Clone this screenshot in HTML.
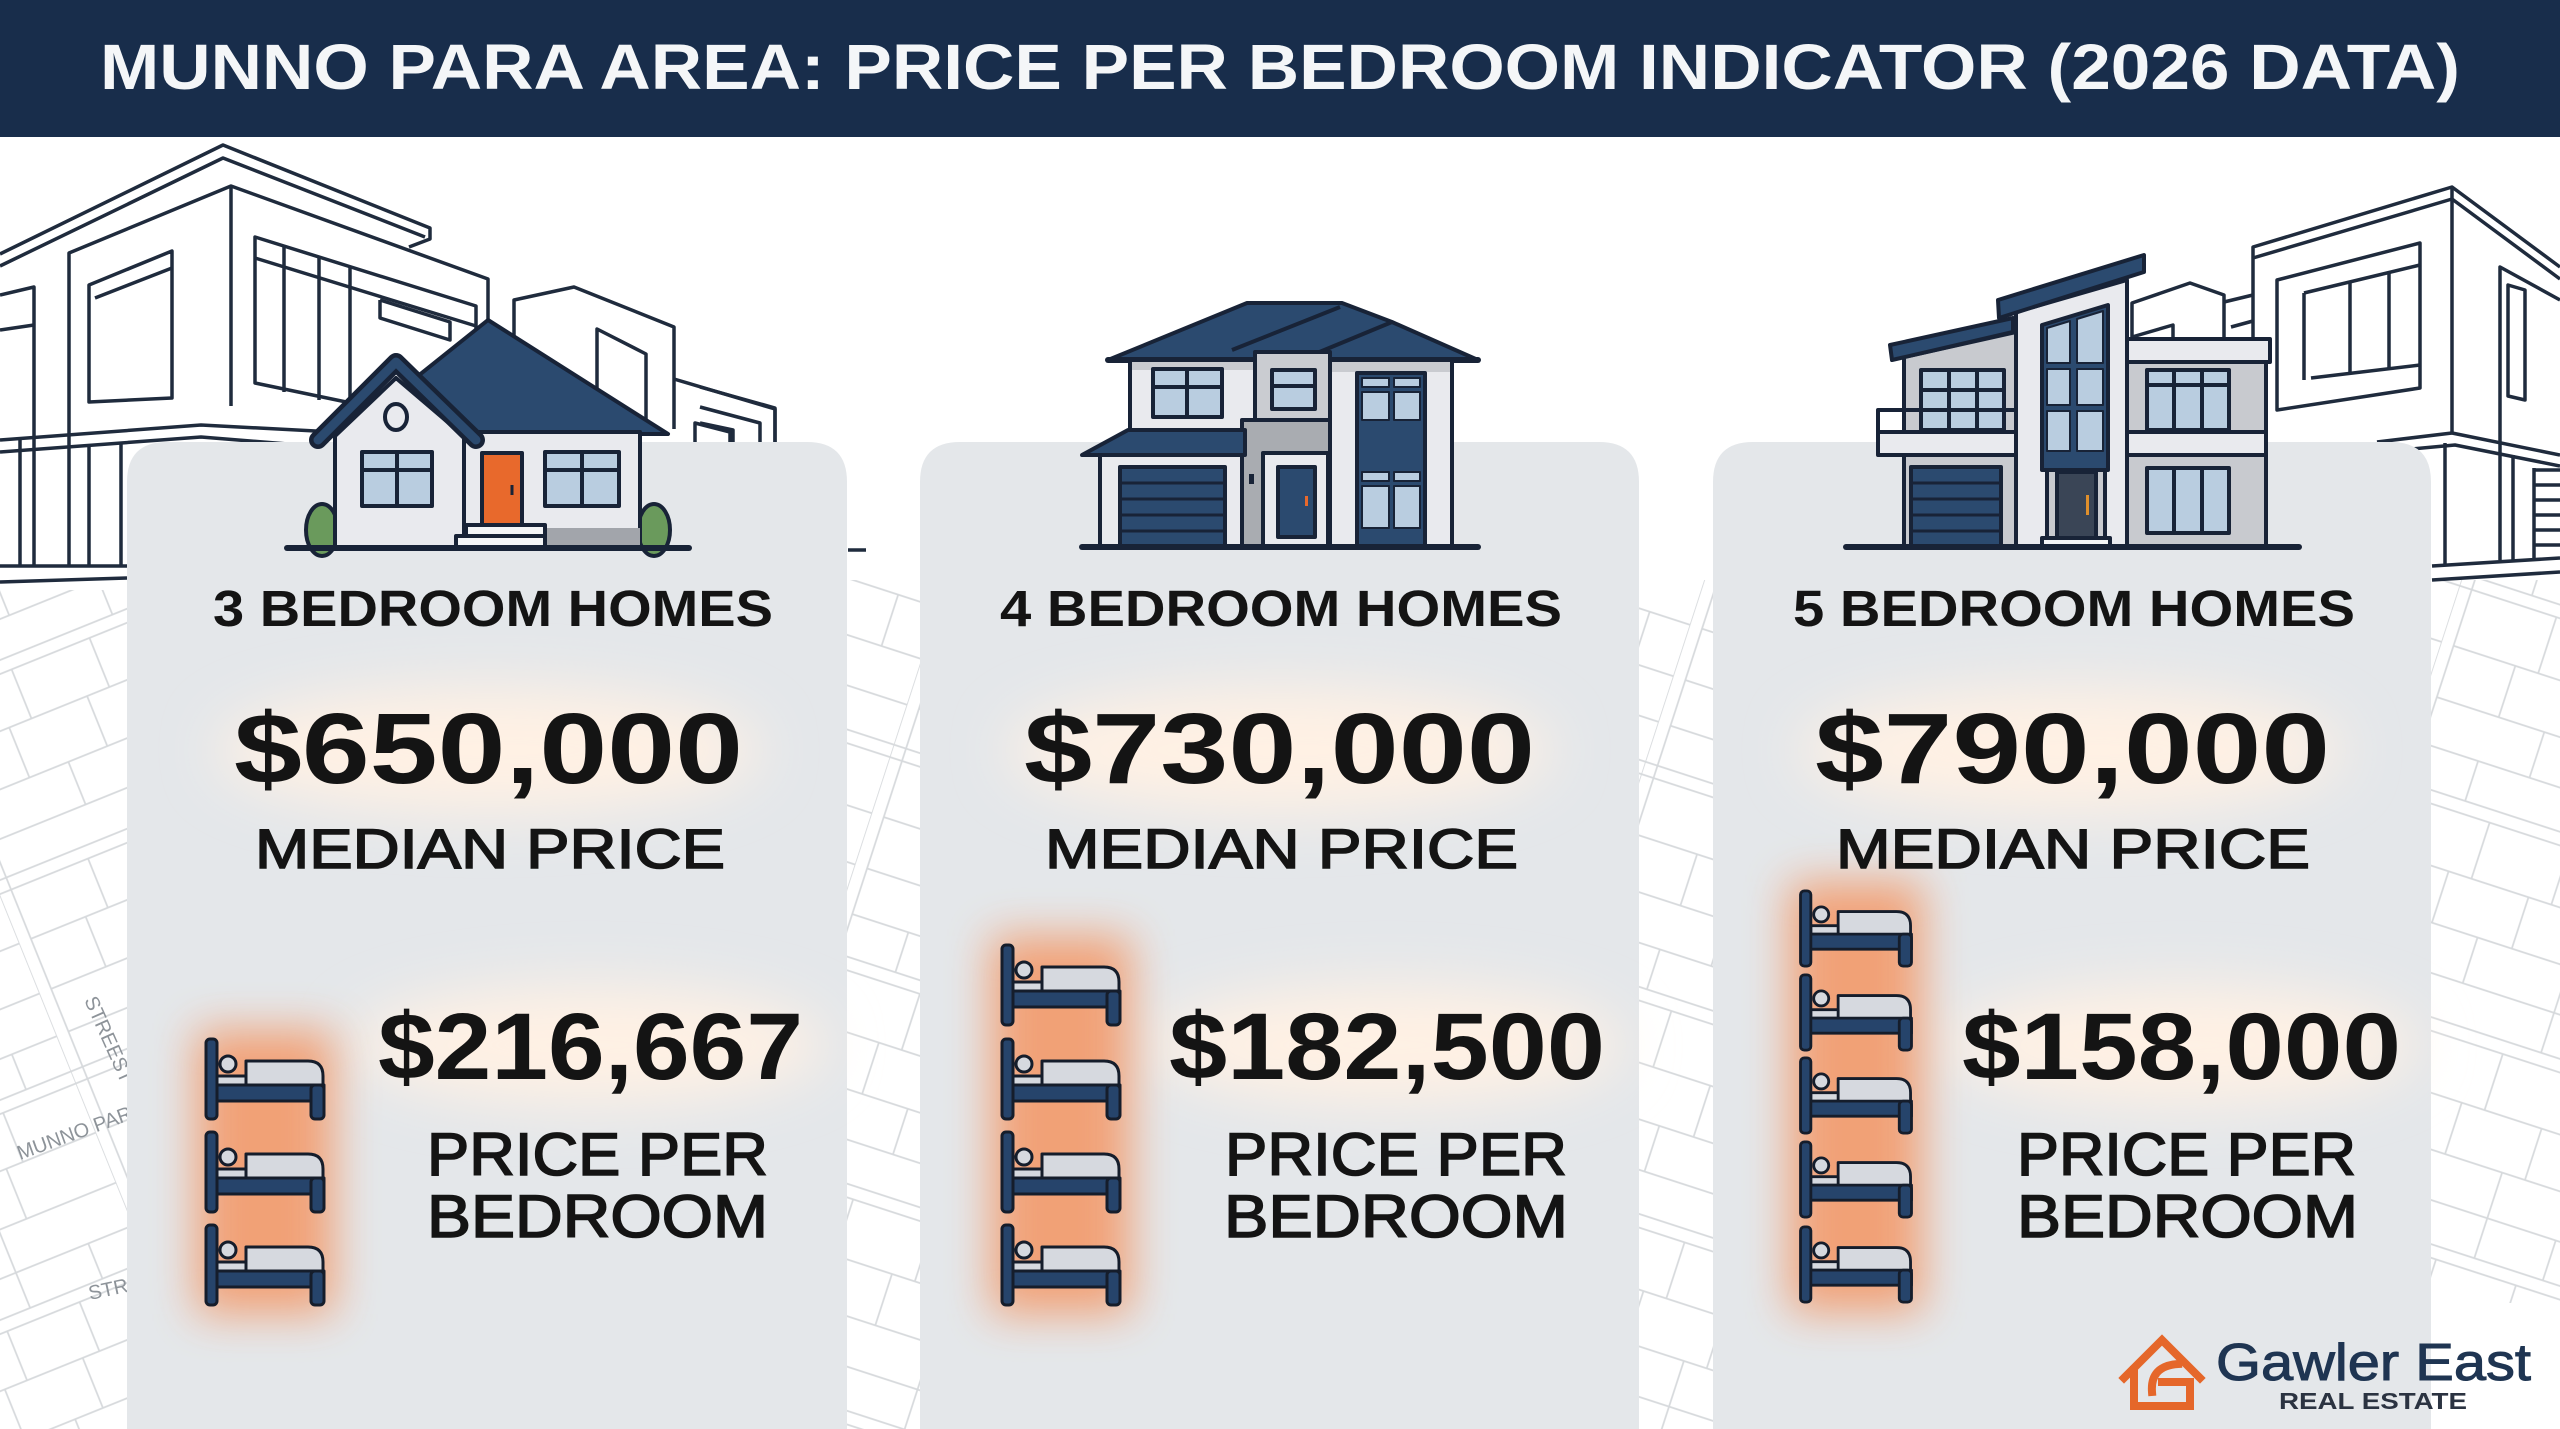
<!DOCTYPE html>
<html><head><meta charset="utf-8">
<style>
html,body{margin:0;padding:0;background:#fff;}
svg{display:block;}
</style></head><body>
<svg width="2560" height="1429" viewBox="0 0 2560 1429" xmlns="http://www.w3.org/2000/svg">
<defs>
 <filter id="b22" x="-60%" y="-60%" width="220%" height="220%"><feGaussianBlur stdDeviation="22"/></filter>
 <filter id="b28" x="-60%" y="-60%" width="220%" height="220%"><feGaussianBlur stdDeviation="28"/></filter>
 <pattern id="mapA" width="360" height="216" patternUnits="userSpaceOnUse" patternTransform="rotate(18)">
  <g stroke="#d6d9dc" stroke-width="1.7" fill="none">
   <path d="M0 0H360M0 13H360M0 216H360"/>
   <path d="M0 0V216M13 0V216"/>
   <path d="M13 72H360M13 126H360M13 174H360"/>
   <path d="M102 13V72M186 13V72M270 13V72M78 72V126M162 72V126M246 72V126M318 72V126M126 126V174M222 126V216M294 174V216M72 174V216"/>
  </g>
 </pattern>
 <pattern id="mapB" width="336" height="204" patternUnits="userSpaceOnUse" patternTransform="rotate(-22)">
  <g stroke="#d6d9dc" stroke-width="1.7" fill="none">
   <path d="M0 0H336M0 13H336M0 204H336"/>
   <path d="M0 0V204M13 0V204"/>
   <path d="M13 66H336M13 120H336M13 166H336"/>
   <path d="M96 13V66M180 13V66M258 13V66M72 66V120M156 66V120M240 66V120M114 120V166M210 120V204M288 166V204"/>
  </g>
 </pattern>
 <symbol id="bed" viewBox="0 0 122 84">
  <g stroke="#151d2b" stroke-width="3" stroke-linejoin="round">
   <path d="M42,50 V24 H104 Q119,24 119,39 V50 Z" fill="#d6d9df"/>
   <rect x="13" y="39" width="29" height="9" fill="#d6d9df"/>
   <circle cx="24" cy="27" r="8" fill="#d6d9df"/>
   <rect x="11" y="48" width="109" height="16" fill="#26446b"/>
   <rect x="2" y="2" width="11" height="80" rx="4" fill="#26446b"/>
   <rect x="107" y="48" width="13" height="34" rx="4" fill="#26446b"/>
  </g>
 </symbol>
</defs>

<!-- background -->
<rect width="2560" height="1429" fill="#ffffff"/>
<rect x="127" y="580" width="2433" height="849" fill="url(#mapA)"/>
<rect x="0" y="590" width="127" height="839" fill="url(#mapB)"/>
<g font-family="Liberation Sans, sans-serif" font-size="20" fill="#8d9399">
 <text transform="translate(20,1160) rotate(-20)">MUNNO PARA</text>
 <text transform="translate(84,1000) rotate(66)">STREEST</text>
 <text transform="translate(90,1300) rotate(-12)">STRE</text>
</g>
<rect x="2431" y="1303" width="129" height="126" fill="#ffffff"/>

<!-- left background building sketch -->
<g fill="none" stroke="#1f2b3d" stroke-width="3.5" stroke-linejoin="round">
 <polyline points="0,254 223,145 430,228 430,239 409,247"/>
 <polyline points="0,266 223,158 425,237"/>
 <polyline points="69,566 69,253 231,186 488,279 488,440"/>
 <line x1="231" y1="186" x2="231" y2="406"/>
 <polygon points="89,285 172,251 172,398 89,402"/>
 <polyline points="95,298 172,268"/>
 <polygon points="255,237 476,306 476,429 255,383"/>
 <polyline points="255,258 476,326"/>
 <line x1="284" y1="246" x2="284" y2="392"/>
 <line x1="319" y1="257" x2="319" y2="400"/>
 <line x1="350" y1="267" x2="350" y2="406"/>
 <polyline points="380,300 450,322 450,340 380,318 380,300"/>
 <polyline points="0,440 201,425 488,440"/>
 <polyline points="0,452 201,437 300,445"/>
 <line x1="20" y1="440" x2="20" y2="566"/>
 <line x1="89" y1="447" x2="89" y2="566"/>
 <line x1="121" y1="444" x2="121" y2="566"/>
 <polyline points="0,295 34,287 34,566"/>
 <polyline points="0,330 34,325"/>
 <polyline points="514,432 514,300 574,287 674,327 674,429"/>
 <polygon points="597,329 646,354 646,429 597,420"/>
 <polyline points="674,379 775,409 775,551"/>
 <polygon points="695,423 730,432 730,470 695,463"/>
 <polyline points="700,387 775,408 775,442"/>
 <polyline points="700,407 760,423 760,442"/>
 <polyline points="700,423 733,430 733,442"/>
 <line x1="0" y1="566" x2="127" y2="566"/>
 <line x1="0" y1="582" x2="127" y2="578"/>
 <line x1="848" y1="550" x2="866" y2="550"/>
</g>

<!-- right background building sketch -->
<g fill="none" stroke="#1f2b3d" stroke-width="3.5" stroke-linejoin="round">
 <polyline points="2253,440 2253,247 2452,187 2560,267"/>
 <polyline points="2253,258 2452,199 2560,279"/>
 <line x1="2452" y1="187" x2="2452" y2="433"/>
 <polygon points="2277,280 2420,243 2420,388 2277,410"/>
 <polyline points="2304,293 2420,265"/>
 <polyline points="2304,293 2304,380"/>
 <polyline points="2311,378 2420,365"/>
 <line x1="2350" y1="282" x2="2350" y2="373"/>
 <line x1="2389" y1="272" x2="2389" y2="368"/>
 <polyline points="2500,560 2500,267 2560,300"/>
 <polygon points="2508,285 2525,290 2525,400 2508,396"/>
 <polyline points="2377,442 2452,433 2560,455"/>
 <polyline points="2380,452 2455,445 2560,466"/>
 <line x1="2445" y1="443" x2="2445" y2="565"/>
 <line x1="2513" y1="455" x2="2513" y2="560"/>
 <line x1="2534" y1="470" x2="2560" y2="470"/>
 <line x1="2534" y1="485" x2="2560" y2="485"/>
 <line x1="2534" y1="500" x2="2560" y2="500"/>
 <line x1="2534" y1="515" x2="2560" y2="515"/>
 <line x1="2534" y1="530" x2="2560" y2="530"/>
 <line x1="2534" y1="545" x2="2560" y2="545"/>
 <line x1="2534" y1="468" x2="2534" y2="558"/>
 <polyline points="2432,566 2560,558"/>
 <polyline points="2432,580 2560,572"/>
 <polyline points="2132,340 2132,303 2190,283 2224,295 2224,340"/>
 <polyline points="2224,302 2253,295"/>
 <polyline points="2132,337 2173,325 2173,340"/>
 <polyline points="2231,327 2253,321"/>
</g>

<!-- header -->
<rect x="0" y="0" width="2560" height="137" fill="#182d4b"/>
<text x="100" y="89" font-family="Liberation Sans, sans-serif" font-weight="bold" font-size="64" fill="#f4f6f8" textLength="2360" lengthAdjust="spacingAndGlyphs">MUNNO PARA AREA: PRICE PER BEDROOM INDICATOR (2026 DATA)</text>

<!-- cards -->
<path d="M127,1429 V482 Q127,442 167,442 H807 Q847,442 847,482 V1429 Z" fill="#e4e7ea"/>
<path d="M920,1429 V482 Q920,442 960,442 H1599 Q1639,442 1639,482 V1429 Z" fill="#e4e7ea"/>
<path d="M1713,1429 V482 Q1713,442 1753,442 H2391 Q2431,442 2431,482 V1429 Z" fill="#e4e7ea"/>

<!-- glows -->
<g filter="url(#b28)" fill="#fff1e4">
 <ellipse cx="489" cy="750" rx="270" ry="62"/>
 <ellipse cx="1280" cy="750" rx="270" ry="62"/>
 <ellipse cx="2072" cy="750" rx="270" ry="62"/>
 <ellipse cx="590" cy="1045" rx="235" ry="58"/>
 <ellipse cx="1387" cy="1045" rx="235" ry="58"/>
 <ellipse cx="2181" cy="1045" rx="235" ry="58"/>
</g>
<g filter="url(#b22)" fill="#f39a6b" opacity="0.9">
 <rect x="196" y="1030" width="138" height="284"/>
 <rect x="991" y="936" width="140" height="378"/>
 <rect x="1789" y="882" width="134" height="430"/>
</g>

<!-- House 1 -->
<g stroke="#182337" stroke-width="4" stroke-linejoin="round">
 <ellipse cx="322" cy="530" rx="16" ry="26" fill="#6a9a5c"/>
 <ellipse cx="654" cy="530" rx="16" ry="26" fill="#6a9a5c"/>
 <polygon points="408,384 488,320 668,434 462,434" fill="#2b4a6f"/>
 <rect x="464" y="432" width="176" height="116" fill="#e9eaee"/>
 <polygon points="335,436 396,378 464,436 464,548 335,548" fill="#e9eaee"/>
 <polyline points="318,440 396,362 476,440" fill="none" stroke="#182337" stroke-width="18" stroke-linecap="round"/>
 <polyline points="318,440 396,362 476,440" fill="none" stroke="#2b4a6f" stroke-width="9" stroke-linecap="round"/>
 <ellipse cx="396" cy="417" rx="11" ry="13" fill="#e9eaee"/>
 <rect x="362" y="452" width="70" height="54" fill="#b9cde0"/>
 <line x1="397" y1="452" x2="397" y2="506"/>
 <line x1="362" y1="470" x2="432" y2="470"/>
 <rect x="545" y="452" width="74" height="54" fill="#b9cde0"/>
 <line x1="582" y1="452" x2="582" y2="506"/>
 <line x1="545" y1="470" x2="619" y2="470"/>
 <rect x="482" y="453" width="40" height="72" fill="#e8692c"/>
 <line x1="512" y1="485" x2="512" y2="495" stroke-width="3"/>
 <rect x="545" y="528" width="95" height="20" fill="#a2a5ab" stroke="none"/>
 <rect x="466" y="525" width="79" height="11" fill="#f4f5f7"/>
 <rect x="456" y="536" width="89" height="12" fill="#f4f5f7"/>
 <line x1="287" y1="548" x2="689" y2="548" stroke-width="6" stroke-linecap="round"/>
</g>

<!-- House 2 -->
<g stroke="#182337" stroke-width="4" stroke-linejoin="round">
 <polygon points="1108,360 1247,303 1342,303 1392,322 1478,360" fill="#2b4a6f"/>
 <line x1="1232" y1="350" x2="1340" y2="307"/>
 <line x1="1305" y1="358" x2="1392" y2="322"/>
 <line x1="1108" y1="360" x2="1478" y2="360" stroke-width="6" stroke-linecap="round"/>
 <rect x="1130" y="360" width="125" height="70" fill="#e9eaee"/>
 <rect x="1132" y="362" width="121" height="8" fill="#c9cbd0" stroke="none"/>
 <rect x="1153" y="369" width="69" height="48" fill="#b9cde0"/>
 <line x1="1187" y1="369" x2="1187" y2="417"/>
 <line x1="1153" y1="387" x2="1222" y2="387"/>
 <rect x="1255" y="352" width="75" height="68" fill="#caccd1"/>
 <rect x="1272" y="370" width="43" height="39" fill="#b9cde0"/>
 <line x1="1272" y1="386" x2="1315" y2="386"/>
 <rect x="1242" y="420" width="88" height="127" fill="#a9acb1"/>
 <rect x="1263" y="453" width="65" height="94" fill="#e9eaee"/>
 <rect x="1278" y="467" width="37" height="70" fill="#2b4a6f"/>
 <rect x="1305" y="496" width="3" height="10" fill="#e8692c" stroke="none"/>
 <rect x="1249" y="474" width="5" height="10" fill="#182337" stroke="none"/>
 <rect x="1330" y="360" width="122" height="187" fill="#e9eaee"/>
 <rect x="1332" y="362" width="118" height="10" fill="#c9cbd0" stroke="none"/>
 <rect x="1357" y="373" width="68" height="174" fill="#2b4a6f"/>
 <g fill="#b9cde0" stroke-width="2">
  <rect x="1362" y="378" width="27" height="9"/><rect x="1394" y="378" width="26" height="9"/>
  <rect x="1362" y="392" width="27" height="28"/><rect x="1394" y="392" width="26" height="28"/>
  <rect x="1362" y="472" width="27" height="9"/><rect x="1394" y="472" width="26" height="9"/>
  <rect x="1362" y="486" width="27" height="42"/><rect x="1394" y="486" width="26" height="42"/>
 </g>
 <polygon points="1082,455 1128,430 1245,430 1245,455" fill="#2b4a6f"/>
 <rect x="1100" y="455" width="142" height="92" fill="#e9eaee"/>
 <rect x="1120" y="467" width="105" height="80" fill="#2b4a6f"/>
 <line x1="1120" y1="483" x2="1225" y2="483" stroke-width="3"/>
 <line x1="1120" y1="499" x2="1225" y2="499" stroke-width="3"/>
 <line x1="1120" y1="515" x2="1225" y2="515" stroke-width="3"/>
 <line x1="1120" y1="531" x2="1225" y2="531" stroke-width="3"/>
 <line x1="1082" y1="547" x2="1478" y2="547" stroke-width="6" stroke-linecap="round"/>
</g>

<!-- House 3 -->
<g stroke="#182337" stroke-width="4" stroke-linejoin="round">
 <polygon points="1904,357 2016,332 2016,547 1904,547" fill="#c8cacf"/>
 <polygon points="1890,345 2013,318 2013,332 1892,360" fill="#2b4a6f"/>
 <rect x="1921" y="370" width="83" height="60" fill="#b9cde0"/>
 <line x1="1949" y1="370" x2="1949" y2="430"/>
 <line x1="1977" y1="370" x2="1977" y2="430"/>
 <line x1="1921" y1="390" x2="2004" y2="390"/>
 <polyline points="1878,432 1878,410 2016,410" fill="none"/>
 <rect x="1878" y="432" width="138" height="23" fill="#e9eaee"/>
 <rect x="1911" y="467" width="90" height="80" fill="#2b4a6f"/>
 <line x1="1911" y1="483" x2="2001" y2="483" stroke-width="3"/>
 <line x1="1911" y1="499" x2="2001" y2="499" stroke-width="3"/>
 <line x1="1911" y1="515" x2="2001" y2="515" stroke-width="3"/>
 <line x1="1911" y1="531" x2="2001" y2="531" stroke-width="3"/>
 <polygon points="2016,312 2127,280 2127,547 2016,547" fill="#e9eaee"/>
 <polygon points="1998,300 2144,255 2144,272 1999,318" fill="#2b4a6f"/>
 <polygon points="2042,325 2108,305 2108,470 2042,470" fill="#2b4a6f"/>
 <g fill="#b9cde0" stroke-width="2">
  <polygon points="2047,328 2070,321 2070,363 2047,363"/>
  <polygon points="2077,319 2103,311 2103,363 2077,363"/>
  <rect x="2047" y="369" width="23" height="36"/><rect x="2077" y="369" width="26" height="36"/>
  <rect x="2047" y="411" width="23" height="40"/><rect x="2077" y="411" width="26" height="40"/>
 </g>
 <rect x="2047" y="470" width="58" height="77" fill="#c8cacf"/>
 <rect x="2057" y="472" width="39" height="68" fill="#3a4556"/>
 <rect x="2086" y="495" width="3" height="20" fill="#e0902c" stroke="none"/>
 <rect x="2042" y="538" width="68" height="9" fill="#f4f5f7"/>
 <rect x="2127" y="362" width="139" height="185" fill="#c8cacf"/>
 <rect x="2127" y="339" width="143" height="23" fill="#e9eaee"/>
 <rect x="2147" y="370" width="82" height="60" fill="#b9cde0"/>
 <line x1="2174" y1="370" x2="2174" y2="430"/>
 <line x1="2202" y1="370" x2="2202" y2="430"/>
 <line x1="2147" y1="385" x2="2229" y2="385"/>
 <rect x="2127" y="432" width="139" height="23" fill="#e9eaee"/>
 <rect x="2147" y="468" width="82" height="65" fill="#b9cde0"/>
 <line x1="2174" y1="468" x2="2174" y2="533"/>
 <line x1="2202" y1="468" x2="2202" y2="533"/>
 <line x1="1846" y1="547" x2="2299" y2="547" stroke-width="6" stroke-linecap="round"/>
</g>

<!-- beds -->
<use href="#bed" x="204" y="1037" width="122" height="84"/>
<use href="#bed" x="204" y="1130" width="122" height="84"/>
<use href="#bed" x="204" y="1223" width="122" height="84"/>

<use href="#bed" x="999" y="943" width="124" height="84"/>
<use href="#bed" x="999" y="1037" width="124" height="84"/>
<use href="#bed" x="999" y="1130" width="124" height="84"/>
<use href="#bed" x="999" y="1223" width="124" height="84"/>

<use href="#bed" x="1797" y="889" width="118" height="79"/>
<use href="#bed" x="1797" y="973" width="118" height="79"/>
<use href="#bed" x="1797" y="1056" width="118" height="79"/>
<use href="#bed" x="1797" y="1140" width="118" height="79"/>
<use href="#bed" x="1797" y="1225" width="118" height="79"/>

<!-- card texts -->
<g font-family="Liberation Sans, sans-serif" fill="#141414">
 <g font-weight="bold" font-size="51">
  <text x="213" y="626" textLength="560" lengthAdjust="spacingAndGlyphs">3 BEDROOM HOMES</text>
  <text x="1000" y="626" textLength="562" lengthAdjust="spacingAndGlyphs">4 BEDROOM HOMES</text>
  <text x="1793" y="626" textLength="562" lengthAdjust="spacingAndGlyphs">5 BEDROOM HOMES</text>
 </g>
 <g font-weight="bold" font-size="100">
  <text x="234" y="783" textLength="509" lengthAdjust="spacingAndGlyphs">$650,000</text>
  <text x="1024" y="783" textLength="511" lengthAdjust="spacingAndGlyphs">$730,000</text>
  <text x="1815" y="783" textLength="515" lengthAdjust="spacingAndGlyphs">$790,000</text>
 </g>
 <g font-size="56" stroke="#141414" stroke-width="1.6">
  <text x="255" y="868" textLength="470" lengthAdjust="spacingAndGlyphs">MEDIAN PRICE</text>
  <text x="1045" y="868" textLength="473" lengthAdjust="spacingAndGlyphs">MEDIAN PRICE</text>
  <text x="1836" y="868" textLength="474" lengthAdjust="spacingAndGlyphs">MEDIAN PRICE</text>
 </g>
 <g font-weight="bold" font-size="95">
  <text x="378" y="1079" textLength="425" lengthAdjust="spacingAndGlyphs">$216,667</text>
  <text x="1169" y="1079" textLength="436" lengthAdjust="spacingAndGlyphs">$182,500</text>
  <text x="1962" y="1079" textLength="439" lengthAdjust="spacingAndGlyphs">$158,000</text>
 </g>
 <g font-size="60" stroke="#141414" stroke-width="1.6">
  <text x="427" y="1175" textLength="341" lengthAdjust="spacingAndGlyphs">PRICE PER</text>
  <text x="427" y="1237" textLength="341" lengthAdjust="spacingAndGlyphs">BEDROOM</text>
  <text x="1225" y="1175" textLength="342" lengthAdjust="spacingAndGlyphs">PRICE PER</text>
  <text x="1224" y="1237" textLength="344" lengthAdjust="spacingAndGlyphs">BEDROOM</text>
  <text x="2017" y="1175" textLength="339" lengthAdjust="spacingAndGlyphs">PRICE PER</text>
  <text x="2017" y="1237" textLength="341" lengthAdjust="spacingAndGlyphs">BEDROOM</text>
 </g>
</g>

<!-- logo -->
<g fill="none" stroke="#e5672a" stroke-width="8" stroke-linejoin="miter" stroke-linecap="square">
 <polyline points="2124,1378 2162,1340 2200,1378"/>
 <polyline points="2134,1370 2134,1406 2190,1406 2190,1382 2162,1382"/>
 <path d="M2178,1364 Q2150,1366 2152,1392"/>
</g>
<text x="2216" y="1380" font-family="Liberation Sans, sans-serif" font-size="52" fill="#1f3552" stroke="#1f3552" stroke-width="1" textLength="315" lengthAdjust="spacingAndGlyphs">Gawler East</text>
<text x="2279" y="1409" font-family="Liberation Sans, sans-serif" font-weight="bold" font-size="23" fill="#2b3341" textLength="188" lengthAdjust="spacingAndGlyphs">REAL ESTATE</text>
</svg>
</body></html>
